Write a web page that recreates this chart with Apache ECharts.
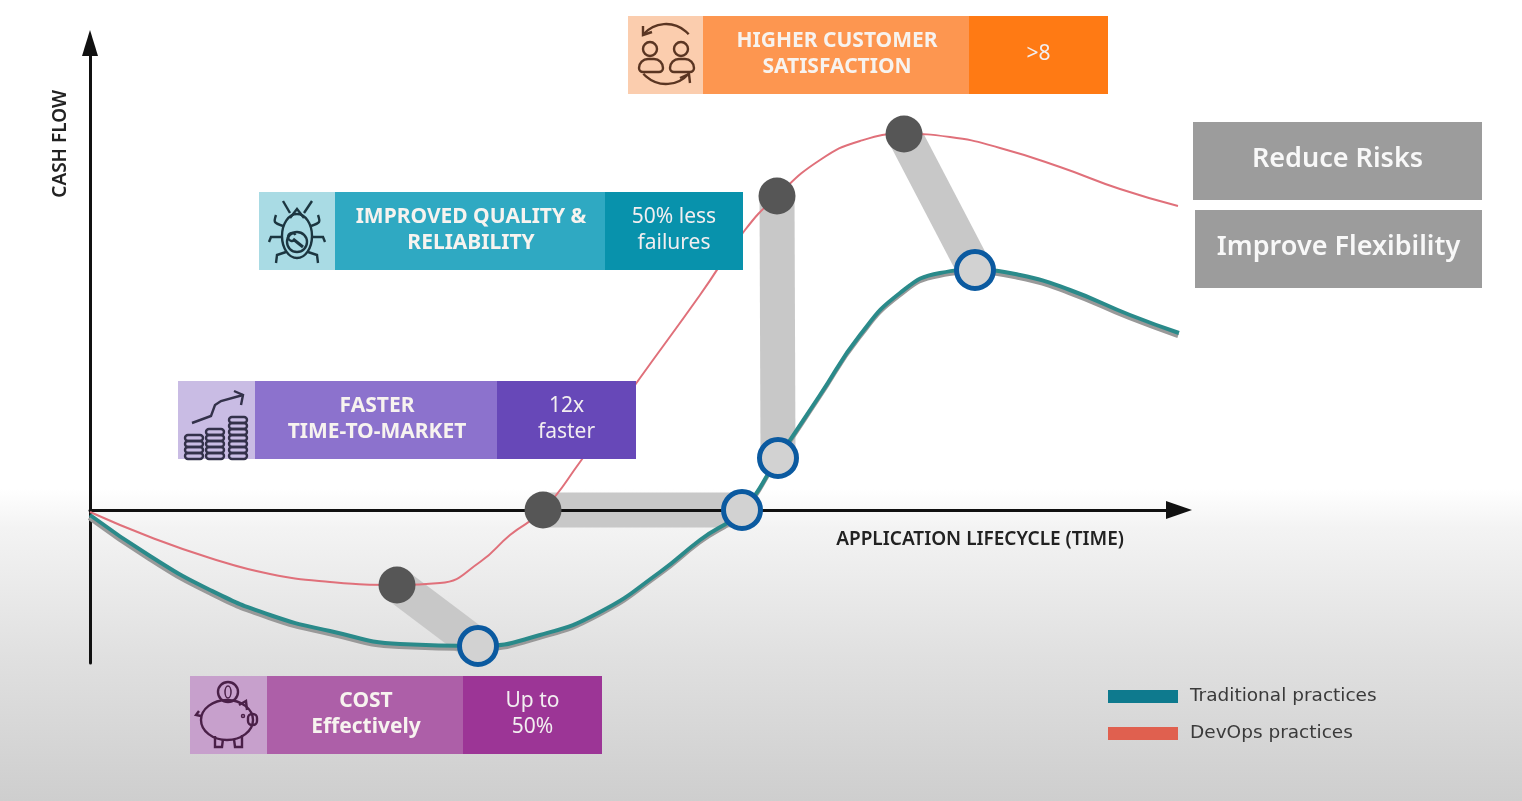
<!DOCTYPE html>
<html>
<head>
<meta charset="utf-8">
<title>Application lifecycle cash flow</title>
<script src="https://cdn.jsdelivr.net/npm/echarts@6/dist/echarts.min.js"></script>
<style>
html, body { margin: 0; padding: 0; background: #fff; overflow: hidden; }
/* reference is a soft video frame */
#chart { width: 1522px; height: 801px; filter: blur(0.6px); }
</style>
</head>
<body>
<div id="chart"></div>
<script>
// curves: [time, cash flow]
const traditionalCurve = [[0,-0.5],[6,-4.6],[12,-8],[18,-10.5],[24,-12.1],[31,-13.4],[38.8,-13.6],[45,-12.5],[51,-10.2],[57,-6.2],[61,-3],[65.2,0],[68.8,5.2],[73,11.5],[77,17.5],[81,21.7],[85,23.7],[88.5,24],[93,23.5],[98,22],[104,19.5],[108.9,17.7]]
const devopsCurve = [[0,-0.2],[6,-2.7],[12,-4.8],[18,-6.4],[24,-7.2],[30.7,-7.5],[35,-7.3],[39,-5.2],[42,-2.5],[45.3,0],[49,4.8],[55,13.2],[61,21.5],[65.5,28],[68.7,31.4],[73,35],[77,36.9],[81.4,37.6],[86,37.3],[91,36.2],[97,34.3],[103,32.1],[108.8,30.4]]

// same benefit, devops point then traditional point
const devopsMilestones = [[30.7,-7.5],[45.3,0],[68.7,31.4],[81.4,37.6]]
const traditionalMilestones = [[38.8,-13.6],[65.2,0],[68.8,5.2],[88.5,24]]

const seriesNames = ['Traditional practices', 'DevOps practices']
const axisNames = ['APPLICATION LIFECYCLE (TIME)', 'CASH FLOW']

const benefitTitles = ['HIGHER CUSTOMER\nSATISFACTION', 'IMPROVED QUALITY &\nRELIABILITY', 'FASTER\nTIME-TO-MARKET', 'COST\nEffectively']
const benefitValues = ['>8', '50% less\nfailures', '12x\nfaster', 'Up to\n50%']
const sideNotes = ['Reduce Risks', 'Improve Flexibility']

// layout of the boxes, same order as benefitTitles: left, icon end, title end, right, top
const boxLayout = [
    { x: [628, 703, 969, 1108], y: 16, colors: ['#fbcdae', '#fd9650', '#ff7a14'], icon: '#5a3522' },
    { x: [259, 335, 605, 743], y: 192, colors: ['#a9dbe4', '#2fa9c2', '#0892ac'], icon: '#1c3640' },
    { x: [178, 255, 497, 636], y: 381, colors: ['#c9bce4', '#8c72cd', '#6748b8'], icon: '#33314a' },
    { x: [190, 267, 463, 602], y: 676, colors: ['#c7a0cc', '#ad5fa8', '#9c3596'], icon: '#4a2048' }
]
const sideLayout = [
    { x: 1193, y: 122, w: 289 },
    { x: 1195, y: 210, w: 287 }
]
const boxH = 78
const FONT = '"Noto Sans", "Open Sans", sans-serif'

let els = []

function addRect(x, y, w, h, fill) {
    els.push({ type: 'rect', z: 50, shape: { x, y, width: w, height: h }, style: { fill } })
}
function addText(cx, cy, text, size, weight, fill) {
    els.push({
        type: 'text', z: 52, x: cx, y: cy,
        style: { text, fill, font: `${weight} ${size}px ${FONT}`, textAlign: 'center', textVerticalAlign: 'middle', lineHeight: 26 }
    })
}

// icons are made of plain strokes, coordinates local to the icon square
function iconPen(ox, oy, color) {
    const style = (w, fill) => ({ stroke: color, lineWidth: w || 2.4, fill: fill || 'none' })
    const put = (type, shape, w, fill) => els.push({ type, z: 51, x: ox, y: oy, shape, style: style(w, fill) })
    return {
        circle: (cx, cy, r, w, fill) => put('circle', { cx, cy, r }, w, fill),
        ellipse: (cx, cy, rx, ry, w) => put('ellipse', { cx, cy, rx, ry }, w),
        arc: (cx, cy, r, a, b, w) => put('arc', { cx, cy, r, startAngle: a * Math.PI / 180, endAngle: b * Math.PI / 180 }, w),
        rect: (x, y, width, height, r, w) => put('rect', { x, y, width, height, r }, w),
        poly: (points, w, smooth) => put('polyline', { points, smooth: smooth || 0 }, w)
    }
}

function drawPeople(p) {
    p.circle(22, 33, 7)
    p.circle(53, 33, 7)
    p.rect(11, 43, 24, 13, [9, 9, 4, 4])
    p.rect(42, 43, 24, 13, [9, 9, 4, 4])
    p.arc(38, 38, 30, -139, -41)
    p.arc(38, 38, 30, 41, 139)
    p.poly([[24, 16], [15, 19], [15, 10]])
    p.poly([[52, 62], [61, 58], [62, 67]])
}
function drawBug(p) {
    p.ellipse(38, 44, 15, 22)
    p.circle(38, 50, 10)
    p.poly([[31, 26], [38, 17], [45, 26]])
    p.poly([[24, 9], [31, 21]])
    p.poly([[53, 9], [45, 21]])
    p.poly([[24, 34], [16, 30], [17, 23]], 2.4, 0.3)
    p.poly([[52, 34], [60, 30], [59, 23]], 2.4, 0.3)
    p.poly([[23, 45], [12, 45], [10, 50]])
    p.poly([[53, 45], [64, 45], [66, 50]])
    p.poly([[27, 60], [18, 63], [17, 71]])
    p.poly([[49, 60], [58, 63], [59, 71]])
    p.poly([[34, 47], [44, 55]], 3)
    p.arc(33, 45, 4, 60, 330)
}
function drawCoins(p) {
    const stacks = [[16, 4], [37, 5], [60, 7]]
    stacks.forEach(s => {
        for (let i = 0; i < s[1]; i++) {
            p.rect(s[0] - 9, 72 - i * 6, 18, 6, 3)
        }
    })
    p.poly([[14, 42], [33, 35], [37, 24], [43, 20], [65, 14]], 2.4)
    p.poly([[56, 10], [65, 14], [63, 24]], 2.4)
}
function drawPig(p) {
    p.circle(38, 16, 10)
    p.ellipse(38, 16, 3, 6, 1.5)
    p.ellipse(37, 44, 26, 20)
    p.rect(58, 38, 9, 11, 4)
    p.poly([[49, 29], [56, 25], [57, 34]])
    p.poly([[25, 60], [25, 71], [32, 71], [33, 63]])
    p.poly([[44, 63], [45, 71], [52, 71], [52, 59]])
    p.poly([[11, 40], [6, 39], [9, 35]])
    p.circle(53, 40, 1.5, 1.5)
}
const iconDrawers = [drawPeople, drawBug, drawCoins, drawPig]

boxLayout.forEach((b, i) => {
    addRect(b.x[0], b.y, b.x[1] - b.x[0], boxH, b.colors[0])
    addRect(b.x[1], b.y, b.x[2] - b.x[1], boxH, b.colors[1])
    addRect(b.x[2], b.y, b.x[3] - b.x[2], boxH, b.colors[2])
    iconDrawers[i](iconPen(b.x[0], b.y, b.icon))
    addText((b.x[1] + b.x[2]) / 2 + 1, b.y + 38, benefitTitles[i], 21, 700, '#f7f3ef')
    addText((b.x[2] + b.x[3]) / 2, b.y + 38, benefitValues[i], 21, 400, '#f2eef0')
})

sideLayout.forEach((b, i) => {
    addRect(b.x, b.y, b.w, boxH, '#9c9c9c')
    addText(b.x + b.w / 2, b.y + 37, sideNotes[i], 27, 600, '#f8f8f8')
})

const chart = echarts.init(document.getElementById('chart'))

const connector = (a, b) => ({
    type: 'line', z: 1, silent: true, symbol: 'none', clip: false,
    data: [a, b],
    lineStyle: { color: '#c8c8c8', width: 35, cap: 'butt' }
})

chart.setOption({
    animation: false,
    backgroundColor: new echarts.graphic.LinearGradient(0, 0, 0, 1, [
        { offset: 0, color: '#ffffff' },
        { offset: 0.61, color: '#ffffff' },
        { offset: 0.66, color: '#f3f3f3' },
        { offset: 0.82, color: '#e0e0e0' },
        { offset: 1, color: '#cecece' }
    ]),
    grid: { left: 90, right: 343, top: 43, bottom: 138 },
    xAxis: {
        type: 'value', min: 0, max: 108.9, z: 2,
        splitLine: { show: false }, axisTick: { show: false }, axisLabel: { show: false },
        axisLine: { onZero: true, symbol: ['none', 'triangle'], symbolSize: [18, 26], lineStyle: { color: '#111', width: 3 } },
        name: axisNames[0], nameLocation: 'end', nameGap: -55, nameMoveOverlap: false,
        nameTextStyle: { color: '#222', fontFamily: FONT, fontWeight: 600, fontSize: 19, align: 'right', verticalAlign: 'top', padding: [20, 0, 0, 0] }
    },
    yAxis: {
        type: 'value', min: -15.3, max: 46.7, z: 2,
        splitLine: { show: false }, axisTick: { show: false }, axisLabel: { show: false },
        axisLine: { onZero: true, symbol: ['none', 'triangle'], symbolSize: [16, 26], lineStyle: { color: '#111', width: 3 } },
        name: axisNames[1], nameLocation: 'end', nameGap: -47, nameRotate: 90, nameMoveOverlap: false,
        nameTextStyle: { color: '#222', fontFamily: FONT, fontWeight: 600, fontSize: 19, align: 'right', verticalAlign: 'bottom', padding: [0, 0, 20, 0] }
    },
    legend: {
        left: 1103, top: 682, orient: 'vertical', icon: 'rect', itemWidth: 70, itemHeight: 13, itemGap: 18,
        data: seriesNames,
        textStyle: { color: '#3a3a3a', fontFamily: '"DejaVu Sans", sans-serif', fontSize: 18.5, padding: [0, 0, 0, 7] }
    },
    series: [
        connector(devopsMilestones[0], traditionalMilestones[0]),
        connector(devopsMilestones[1], traditionalMilestones[1]),
        connector(devopsMilestones[2], traditionalMilestones[2]),
        connector(devopsMilestones[3], traditionalMilestones[3]),
        {
            name: seriesNames[1], type: 'line', z: 3, symbol: 'none', clip: false, smooth: 0.5,
            data: devopsCurve,
            itemStyle: { color: '#e0604f' },
            lineStyle: { color: '#e0707a', width: 2 }
        },
        {
            name: seriesNames[0], type: 'line', z: 3, symbol: 'none', clip: false, smooth: 0.5,
            data: traditionalCurve,
            itemStyle: { color: '#0e7a8e' },
            lineStyle: { color: '#2a8a8a', width: 4, shadowColor: '#999999', shadowOffsetX: -1, shadowOffsetY: 3, shadowBlur: 0 }
        },
        {
            type: 'scatter', z: 4, symbolSize: 37,
            data: devopsMilestones,
            itemStyle: { color: '#565656', opacity: 1 }
        },
        {
            type: 'scatter', z: 4, symbolSize: 37,
            data: traditionalMilestones,
            itemStyle: { color: '#d2d2d2', borderColor: '#0b5aa0', borderWidth: 5, opacity: 1 }
        }
    ],
    graphic: { elements: els }
})
</script>
</body>
</html>
